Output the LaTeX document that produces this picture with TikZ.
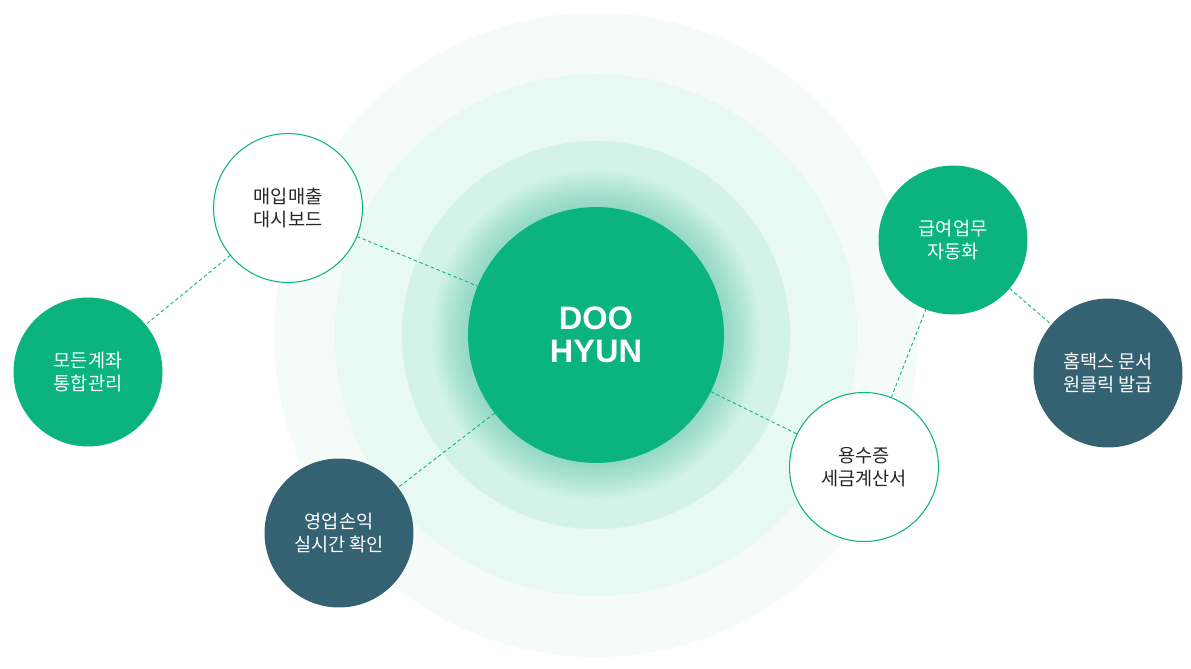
\documentclass[tikz,border=0pt]{standalone}
\usepackage{fontspec}
\setmainfont{Noto Sans CJK KR}
\newfontfamily\corefont{Liberation Sans}
\usetikzlibrary{positioning}
\definecolor{dhgreen}{RGB}{11,179,126}
\definecolor{dhteal}{RGB}{52,98,115}
\definecolor{ringouter}{RGB}{244,251,249}
\definecolor{ringmid}{RGB}{232,248,243}
\definecolor{ringinner}{RGB}{211,243,232}

\begin{document}
\begin{tikzpicture}[x=0.02cm, y=-0.02cm,
    bubble/.style={circle, minimum size=2.98cm, inner sep=0pt, outer sep=0pt, align=center, font=\fontsize{10.6}{13}\selectfont},
    solidbub/.style={bubble, fill=#1, text=white},
    linebub/.style={bubble, draw=dhgreen, line width=0.6pt, fill=white, text=black!85},
    link/.style={draw=dhgreen, line width=0.5pt, dash pattern=on 2pt off 1.5pt}
]
\useasboundingbox (0,0) rectangle (1191,669);

% Rings
\fill[ringouter] (596,335) circle[radius=322];
\fill[ringmid] (596,335) circle[radius=261];
\fill[ringinner] (596,335) circle[radius=194];
\foreach \k in {1,...,14}
    \fill[dhgreen, fill opacity=0.024] (596,335) circle[radius=128+2.6*\k];

% Core
\node[circle, fill=dhgreen, minimum size=5.12cm, inner sep=0pt, outer sep=0pt, text=white, align=center,
      font=\corefont\fontsize{18.5}{18.7}\selectfont\bfseries] (core) at (596,335) {DOO\\HYUN};

% Left side
\node[linebub] (dash) at (288,208) {매입매출\\대시보드};
\node[solidbub=dhgreen] (account) at (88,372) {모든계좌\\통합관리};
\node[solidbub=dhteal] (profit) at (339,533) {영업손익\\실시간 확인};

% Right side
\node[linebub] (invoice) at (864,467) {용수증\\세금계산서};
\node[solidbub=dhgreen] (payroll) at (953,240) {급여업무\\자동화};
\node[solidbub=dhteal] (hometax) at (1108,373) {홈택스 문서\\원클릭 발급};

% Links
\draw[link] (dash) -- (core);
\draw[link] (dash) -- (account);
\draw[link] (core) -- (profit);
\draw[link] (core) -- (invoice);
\draw[link] (invoice) -- (payroll);
\draw[link] (payroll) -- (hometax);
\end{tikzpicture}
\end{document}
